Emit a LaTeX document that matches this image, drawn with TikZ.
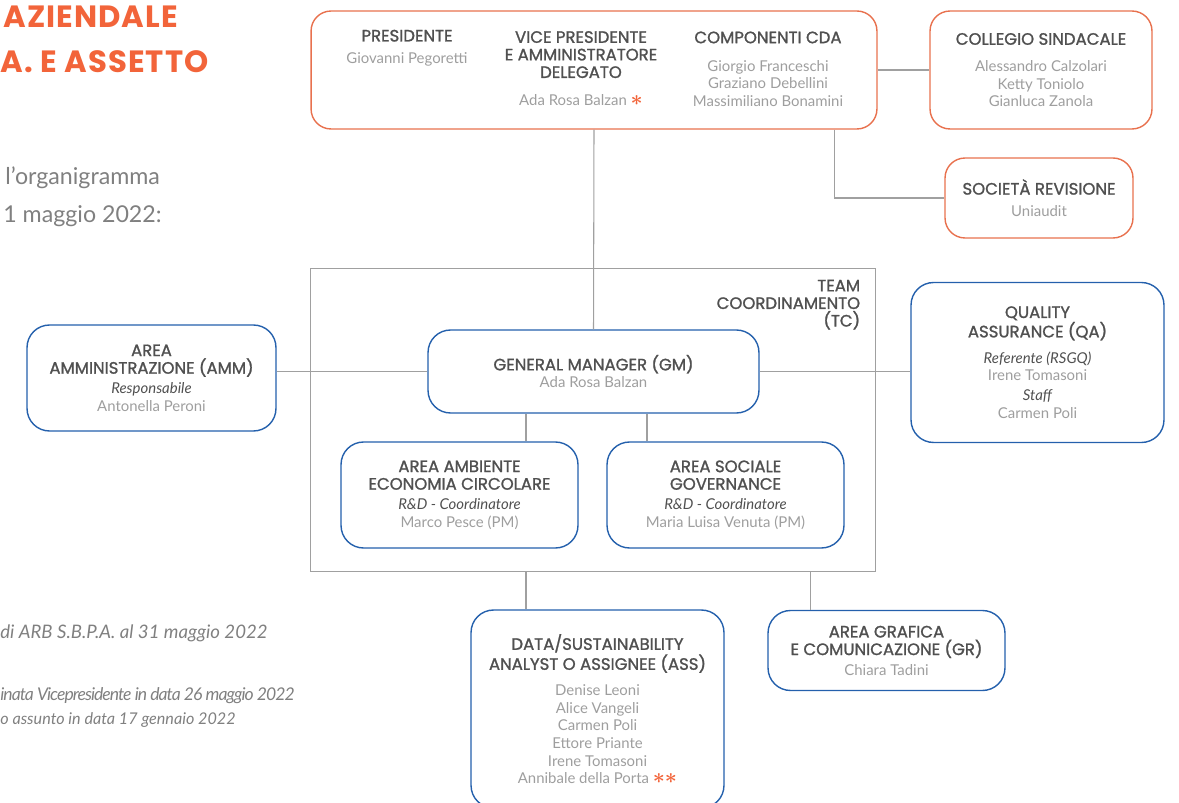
\documentclass[tikz,border=0pt]{standalone}
\usepackage{fontspec}
\setmainfont{Lato}
\newfontfamily\headfont{Poppins}[FakeBold=1.3]
\newfontfamily\titlefont{Poppins Bold}[LetterSpace=3.5]
\newfontfamily\tightfont{Lato}[LetterSpace=-5.5]
\usepackage{xcolor}
\definecolor{arbblue}{HTML}{2460AC}
\definecolor{arborange}{HTML}{E8714E}
\definecolor{titleorange}{HTML}{F2643A}
\definecolor{linegrey}{HTML}{A0A0A0}
\definecolor{headgrey}{HTML}{505050}
\definecolor{namegrey}{HTML}{9E9E9E}
\definecolor{notegrey}{HTML}{808080}
\newcommand{\hdtxt}[1]{{\headfont\fontsize{9.4pt}{10pt}\selectfont\color{headgrey}#1}}
\newcommand{\roletxt}[1]{{\itshape\color{headgrey}#1}}
\newcommand{\nametxt}[1]{{\color{namegrey}#1}}
\newcommand{\starmark}{\textcolor{titleorange}{\fontsize{12pt}{12pt}\selectfont\boldmath$\ast$}}
\tikzset{orgbox/.style={rounded corners=0.45cm, line width=0.8pt, align=center, inner sep=0pt,
   font=\fontsize{8.5pt}{10pt}\selectfont},
 bluebox/.style={orgbox, draw=arbblue},
 orangebox/.style={orgbox, draw=arborange, rounded corners=0.4cm},
 tcframe/.style={draw=linegrey, line width=0.6pt},
 wire/.style={draw=linegrey, line width=0.6pt},
 txt/.style={align=center, inner sep=0pt, font=\fontsize{8.5pt}{10pt}\selectfont},
 sidetxt/.style={anchor=base west, inner sep=0pt, text=notegrey},
 }

\begin{document}
\begin{tikzpicture}[x=0.02cm, y=-0.02cm]
    \path[use as bounding box] (0,0) rectangle (1179,803);
    \clip (0,0) rectangle (1179,803);
    % left side text
    \node[sidetxt, text=titleorange, font=\titlefont\fontsize{17.5pt}{18pt}\selectfont] (title1) at (3,28) {AZIENDALE};
    \node[sidetxt, text=titleorange, font=\titlefont\fontsize{17.5pt}{18pt}\selectfont] (title2) at (0,73) {A. E ASSETTO};
    \node[sidetxt, font=\fontsize{13.2pt}{16pt}\selectfont] (intro1) at (5,185) {l’organigramma};
    \node[sidetxt, font=\fontsize{13.2pt}{16pt}\selectfont] (intro2) at (3,223) {1 maggio 2022:};
    \node[sidetxt, font=\itshape\fontsize{10.6pt}{12pt}\selectfont] (note1) at (0,638) {di ARB S.B.P.A. al 31 maggio 2022};
    \node[sidetxt, font=\tightfont\itshape\fontsize{10pt}{12pt}\selectfont] (note2) at (0,700) {inata Vicepresidente in data 26 maggio 2022};
    \node[sidetxt, font=\itshape\fontsize{9.2pt}{11pt}\selectfont] (note3) at (0,724) {o assunto in data 17 gennaio 2022};

    % board and control
    \node[orangebox, minimum width=11.32cm, minimum height=2.36cm] (board) at (594,70) {};
    \node[txt] (pres) at (407,48) {\hdtxt{PRESIDENTE}\\[2.5pt] \nametxt{Giovanni Pegoretti}};
    \node[txt] (vice) at (581,68.5) {\hdtxt{VICE PRESIDENTE}\\ \hdtxt{E AMMINISTRATORE}\\ \hdtxt{DELEGATO}\\[5.8pt] \nametxt{Ada Rosa Balzan} \starmark};
    \node[txt] (cda) at (768,69) {\hdtxt{COMPONENTI CDA}\\[5.9pt] \nametxt{Giorgio Franceschi}\\ \nametxt{Graziano Debellini}\\ \nametxt{Massimiliano Bonamini}};
    \node[orangebox, minimum width=4.44cm, minimum height=2.36cm] (coll) at (1041,70) {\hdtxt{COLLEGIO SINDACALE}\\[5.3pt] \nametxt{Alessandro Calzolari}\\ \nametxt{Ketty Toniolo}\\ \nametxt{Gianluca Zanola}};
    \node[orangebox, minimum width=3.76cm, minimum height=1.6cm] (soc) at (1039,198) {\hdtxt{SOCIETÀ REVISIONE}\\[2.5pt] \nametxt{Uniaudit}};

    % team coordinamento
    \node[tcframe, minimum width=11.32cm, minimum height=6.08cm] (tc) at (593,420) {};
    \node[txt, align=right, anchor=north east] (tclabel) at ([xshift=-0.32cm, yshift=-0.24cm]tc.north east) {\hdtxt{TEAM}\\ \hdtxt{COORDINAMENTO}\\ \hdtxt{(TC)}};
    \node[bluebox, minimum width=6.62cm, minimum height=1.66cm] (gm) at (593.5,371.5) {\hdtxt{GENERAL MANAGER (GM)}\\ \nametxt{Ada Rosa Balzan}};
    \node[bluebox, minimum width=4.74cm, minimum height=2.12cm] (amb) at (459.5,495) {\hdtxt{AREA AMBIENTE}\\ \hdtxt{ECONOMIA CIRCOLARE}\\[1.4pt] \roletxt{R\&D - Coordinatore}\\ \nametxt{Marco Pesce (PM)}};
    \node[bluebox, minimum width=4.74cm, minimum height=2.12cm] (soci) at (725.5,495) {\hdtxt{AREA SOCIALE}\\ \hdtxt{GOVERNANCE}\\[1.4pt] \roletxt{R\&D - Coordinatore}\\ \nametxt{Maria Luisa Venuta (PM)}};

    % side and lower areas
    \node[bluebox, minimum width=4.98cm, minimum height=2.12cm] (amm) at (151.5,378) {\hdtxt{AREA}\\ \hdtxt{AMMINISTRAZIONE (AMM)}\\[1.4pt] \roletxt{Responsabile}\\ \nametxt{Antonella Peroni}};
    \node[bluebox, minimum width=5.06cm, minimum height=3.2cm] (qa) at (1037.5,362.5) {\hdtxt{QUALITY}\\ \hdtxt{ASSURANCE (QA)}\\[4.8pt] \roletxt{Referente (RSGQ)}\\ \nametxt{Irene Tomasoni}\\[1.4pt] \roletxt{Staff}\\ \nametxt{Carmen Poli}};
    \node[bluebox, minimum width=5.06cm, minimum height=3.96cm] (ass) at (597.5,709) {\hdtxt{DATA/SUSTAINABILITY}\\ \hdtxt{ANALYST O ASSIGNEE (ASS)}\\[4.8pt] \nametxt{Denise Leoni}\\ \nametxt{Alice Vangeli}\\ \nametxt{Carmen Poli}\\ \nametxt{Ettore Priante}\\ \nametxt{Irene Tomasoni}\\ \nametxt{Annibale della Porta} \starmark\starmark};
    \node[bluebox, minimum width=4.74cm, minimum height=1.6cm] (graf) at (886.5,650.5) {\hdtxt{AREA GRAFICA}\\ \hdtxt{E COMUNICAZIONE (GR)}\\[1.4pt] \nametxt{Chiara Tadini}};

    % connectors
    \draw[wire] (board.south) -- (gm.north);
    \draw[wire] (board.east) -- (coll.west);
    \draw[wire] ([xshift=4.82cm]board.south) |- (soc.west);
    \draw[wire] (gm.west) -- (gm.west -| amm.east);
    \draw[wire] (gm.east) -- (gm.east -| qa.west);
    \draw[wire] ([xshift=-1.35cm]gm.south) -- ([xshift=-1.35cm]gm.south |- amb.north);
    \draw[wire] ([xshift=1.07cm]gm.south) -- ([xshift=1.07cm]gm.south |- soci.north);
    \draw[wire] ([xshift=-1.43cm]ass.north) -- ([xshift=-1.43cm]ass.north |- tc.south);
    \draw[wire] ([xshift=-1.53cm]graf.north) -- ([xshift=-1.53cm]graf.north |- tc.south);
\end{tikzpicture}
\end{document}
